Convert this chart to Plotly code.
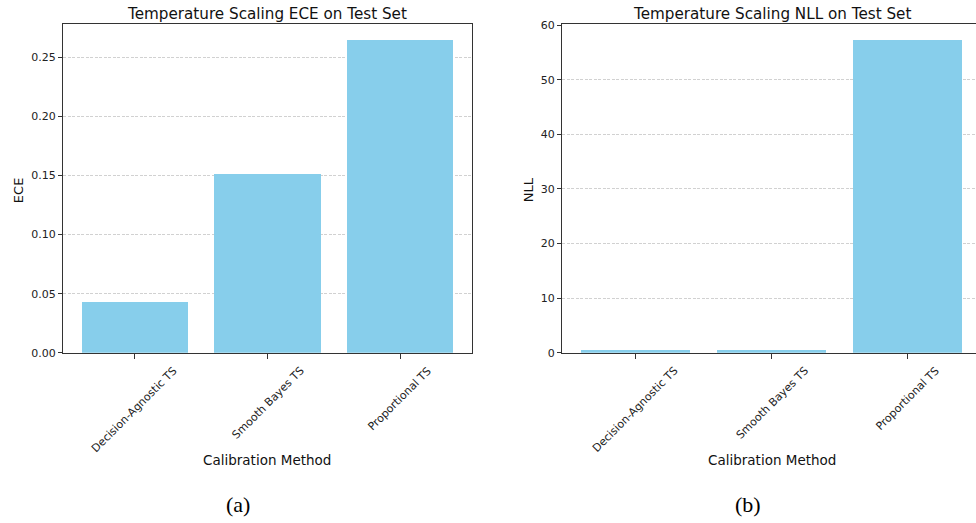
import plotly.graph_objects as go

methods = ["Decision-Agnostic TS", "Smooth Bayes TS", "Proportional TS"]
ece_values = [0.0431, 0.1512, 0.2644]
nll_values = [0.55, 0.55, 57.25]

panel_titles = ["Temperature Scaling ECE on Test Set", "Temperature Scaling NLL on Test Set"]
y_titles = ["ECE", "NLL"]
x_title = "Calibration Method"
panel_labels = ["(a)", "(b)"]

W, H = 976, 523
BAR = "#87CEEB"
SPINE = "#333333"
FONT = "DejaVu Sans, sans-serif"


def px(x):
    return x / W


def py(y):
    # vertical placement, compensated for the observed rendering offset
    return 1 - (y - 5.5) / 511.0


fig = go.Figure()
fig.add_trace(go.Bar(x=list(range(3)), y=ece_values, width=0.8, marker=dict(color=BAR, line=dict(width=0)),
                     xaxis="x", yaxis="y", showlegend=False))
fig.add_trace(go.Bar(x=list(range(3)), y=nll_values, width=0.8, marker=dict(color=BAR, line=dict(width=0)),
                     xaxis="x2", yaxis="y2", showlegend=False))

common_x = dict(showgrid=False, zeroline=False, showline=True, linecolor=SPINE, linewidth=1,
                ticks="outside", ticklen=5, tickcolor=SPINE, tickvals=[0, 1, 2], showticklabels=False)
common_y = dict(showgrid=True, gridcolor="#bdbdbd", griddash="3px,1.5px", gridwidth=0.7, zeroline=False,
                showline=True, linecolor=SPINE, linewidth=1, ticks="outside", ticklen=4, tickcolor=SPINE,
                tickfont=dict(family=FONT, size=11, color="#222222"))

y_dom = [py(353), py(24)]
fig.update_layout(
    width=W, height=H, margin=dict(l=0, r=0, t=0, b=0),
    plot_bgcolor="white", paper_bgcolor="white", bargap=0,
    xaxis=dict(domain=[px(63), px(472)], range=[-0.54, 2.54], mirror=True, anchor="y", **common_x),
    yaxis=dict(domain=y_dom, range=[0, 0.2776], dtick=0.05, tickformat=".2f", mirror=True, anchor="x", **common_y),
    xaxis2=dict(domain=[px(562), 1.0], range=[-0.54, 2.5], mirror=True, anchor="y2", **common_x),
    yaxis2=dict(domain=y_dom, range=[0, 60.1], dtick=10, mirror=False, anchor="x2", **common_y),
)

ann = []
centers = [(267, "x", 18, 238), (772, "x2", 528, 748)]
for i, (cx, xr, ylx, lx) in enumerate(centers):
    ann.append(dict(text=panel_titles[i], x=px(cx), y=py(14), xref="paper", yref="paper",
                    showarrow=False, xanchor="center", yanchor="middle",
                    font=dict(family=FONT, size=15.2, color="#111111")))
    ann.append(dict(text=y_titles[i], x=px(ylx), y=py(190), xref="paper", yref="paper", textangle=-90,
                    showarrow=False, xanchor="center", yanchor="middle",
                    font=dict(family=FONT, size=13, color="#111111")))
    ann.append(dict(text=x_title, x=px(cx), y=py(460), xref="paper", yref="paper",
                    showarrow=False, xanchor="center", yanchor="middle",
                    font=dict(family=FONT, size=13.5, color="#111111")))
    ann.append(dict(text=panel_labels[i], x=px(lx), y=py(505), xref="paper", yref="paper",
                    showarrow=False, xanchor="center", yanchor="middle",
                    font=dict(family="Liberation Serif, serif", size=22, color="#000000")))
    for j, m in enumerate(methods):
        ann.append(dict(text=m, x=j, y=py(362), xref=xr, yref="paper", textangle=-45,
                        showarrow=False, xanchor="center", yanchor="top",
                        font=dict(family=FONT, size=11, color="#222222")))

fig.update_layout(annotations=ann)
post = ("document.body.style.margin='0';"
        "document.documentElement.style.overflow='hidden';"
        "document.body.style.overflow='hidden';"
        "var d=document.getElementById('{plot_id}');"
        "d.style.position='fixed';d.style.top='0px';d.style.left='0px';")
fig.write_html("out.html", config={"displayModeBar": False, "staticPlot": True}, post_script=post)
